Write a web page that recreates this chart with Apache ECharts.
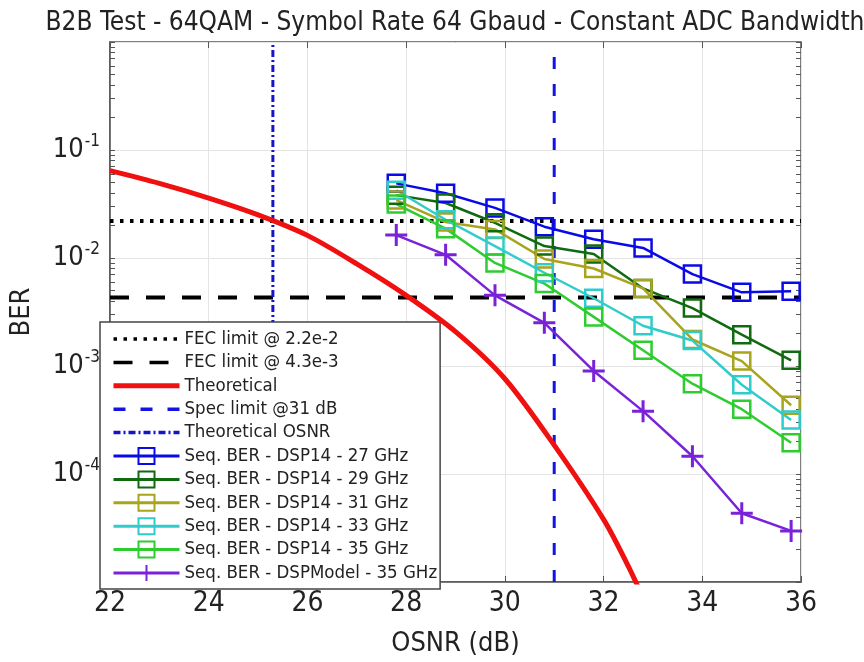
<!DOCTYPE html>
<html><head><meta charset="utf-8">
<script src="https://cdn.jsdelivr.net/npm/echarts@6/dist/echarts.min.js"></script>
<style>html,body{margin:0;padding:0;background:#fff}#c{width:864px;height:662px}</style>
</head><body><div id="c"></div>
<script>
// ---- data ----
const osnr = [27.8, 28.8, 29.8, 30.8, 31.8, 32.8, 33.8, 34.8, 35.8];
const ber27 = [0.0491, 0.0398, 0.0291, 0.0195, 0.0149, 0.0124, 0.0071, 0.00481, 0.00491];
const ber29 = [0.0382, 0.0323, 0.0212, 0.0129, 0.0109, 0.00523, 0.00344, 0.00195, 0.00113];
const ber31 = [0.0344, 0.0215, 0.0184, 0.0098, 0.0080, 0.00523, 0.00176, 0.00111, 0.000433];
const ber33 = [0.0424, 0.0226, 0.0129, 0.0073, 0.00424, 0.00236, 0.00172, 0.00067, 0.000316];
const ber35 = [0.0316, 0.0187, 0.0090, 0.0058, 0.00285, 0.00140, 0.000686, 0.000398, 0.000195];
const berModel = [0.0163, 0.0107, 0.00451, 0.00251, 0.00090, 0.000382, 0.000146, 0.0000433, 0.0000297];
const theoOsnr = [22, 23, 24, 25, 26, 27, 28, 29, 30, 31, 32, 32.5, 33];
const theoBer = [0.0644, 0.0491, 0.0359, 0.0251, 0.0162, 0.00882, 0.00451, 0.00208, 0.000762, 0.000185, 0.000038, 0.0000140, 0.0000045];
const fecLimit1 = 0.022;
const fecLimit2 = 0.0043;
const specLimitOsnr = 31;
const theoLimitOsnr = 25.3;
const xTicks = [22, 24, 26, 28, 30, 32, 34, 36];
const yDecades = [1e-5, 1e-4, 1e-3, 1e-2, 1e-1, 1];
const yLabelDecades = [1e-4, 1e-3, 1e-2, 1e-1];
const minorMant = [2, 3, 4, 5, 6, 7, 8, 9];

const names = ['FEC limit @ 2.2e-2', 'FEC limit @ 4.3e-3', 'Theoretical', 'Spec limit @31 dB', 'Theoretical OSNR',
  'Seq. BER - DSP14 - 27 GHz', 'Seq. BER - DSP14 - 29 GHz', 'Seq. BER - DSP14 - 31 GHz',
  'Seq. BER - DSP14 - 33 GHz', 'Seq. BER - DSP14 - 35 GHz', 'Seq. BER - DSPModel - 35 GHz'];

// ---- build ----
const FONT = "'Liberation Sans Narrow', 'DejaVu Sans Condensed', 'Liberation Sans', Arial, sans-serif";
const xMin = xTicks[0], xMax = xTicks[xTicks.length - 1];
const yMin = yDecades[0], yMax = yDecades[yDecades.length - 1];
const allTicks = [];
for (let i = 0; i < yDecades.length; i++) {
  allTicks.push(yDecades[i]);
  if (i < yDecades.length - 1) minorMant.forEach(m => allTicks.push(+(m * yDecades[i]).toPrecision(3)));
}
const zip = (xs, ys) => xs.map((x, i) => [x, ys[i]]);
const PLUS = 'path://M0,10 L20,10 M10,0 L10,20';

function seq(name, ys, color, isPlus) {
  return {
    name, type: 'line', data: zip(osnr, ys),
    symbol: isPlus ? PLUS : 'rect', symbolSize: isPlus ? 22 : 17,
    lineStyle: { color, width: 2.5 },
    itemStyle: { color: isPlus ? color : 'transparent', borderColor: color, borderWidth: isPlus ? 3 : 2.5 },
    color, z: 5
  };
}

const series = [
  { name: names[0], type: 'line', symbol: 'none', data: [[xMin, fecLimit1], [xMax, fecLimit1]],
    lineStyle: { color: '#000', width: 4, type: [3.5, 6.5] }, color: '#000', z: 3 },
  { name: names[1], type: 'line', symbol: 'none', data: [[xMin, fecLimit2], [xMax, fecLimit2]],
    lineStyle: { color: '#000', width: 4, type: [19, 17] }, color: '#000', z: 3 },
  { name: names[2], type: 'line', symbol: 'none', smooth: 0.3, data: zip(theoOsnr, theoBer),
    lineStyle: { color: '#f01010', width: 5 }, color: '#f01010', z: 4 },
  { name: names[3], type: 'line', symbol: 'none', data: [[specLimitOsnr, yMin], [specLimitOsnr, yMax]],
    lineStyle: { color: '#1414e0', width: 3, type: [12, 15] }, color: '#1414e0', z: 3 },
  { name: names[4], type: 'line', symbol: 'none', data: [[theoLimitOsnr, yMin], [theoLimitOsnr, yMax]],
    lineStyle: { color: '#1414c8', width: 3, type: [7, 3, 2, 3] }, color: '#1414c8', z: 3 },
  seq(names[5], ber27, '#0a0ae6'),
  seq(names[6], ber29, '#106a10'),
  seq(names[7], ber31, '#a8a41c'),
  seq(names[8], ber33, '#30cccc'),
  seq(names[9], ber35, '#2ecc2e'),
  seq(names[10], berModel, '#7a22d8', true)
];

const legendData = names.map((n, i) => i < 5
  ? { name: n, itemStyle: { opacity: 0 }, lineStyle: { width: i === 2 ? 5 : 3.5 } }
  : { name: n, lineStyle: { width: 3 } });

const chart = echarts.init(document.getElementById('c'), null, { renderer: 'canvas' });
chart.setOption({
  animation: false,
  backgroundColor: '#fff',
  title: { text: 'B2B Test - 64QAM - Symbol Rate 64 Gbaud - Constant ADC Bandwidth', left: 450, textAlign: 'center', top: 5,
    textStyle: { fontFamily: FONT, fontSize: 26, fontWeight: 'normal', color: '#222' } },
  grid: { left: 101, right: 63, top: 42, bottom: 72, show: true, borderColor: '#555', borderWidth: 1.5, backgroundColor: 'transparent' },
  legend: {
    orient: 'vertical', left: 100, top: 322, itemWidth: 66, itemHeight: 20, itemGap: 3.4,
    padding: [7, 3, 6, 11], backgroundColor: '#fff', borderColor: '#444', borderWidth: 1.5,
    textStyle: { fontFamily: FONT, fontSize: 18.5, lineHeight: 20, color: '#222' }, data: legendData
  },
  xAxis: [
    { type: 'value', min: xMin, max: xMax, interval: 2, name: 'OSNR (dB)', nameLocation: 'middle', nameGap: 48,
      nameTextStyle: { fontFamily: FONT, fontSize: 27, color: '#222' },
      axisLine: { show: true, lineStyle: { color: '#555', width: 1.5 } },
      axisTick: { show: true, inside: true, length: 6, lineStyle: { color: '#555' } },
      axisLabel: { fontFamily: FONT, fontSize: 28, color: '#222', margin: 8 },
      splitLine: { show: true, lineStyle: { color: '#e4e4e4', width: 1 } } },
    { type: 'value', position: 'top', min: xMin, max: xMax, interval: 2,
      axisLine: { show: false }, axisLabel: { show: false }, splitLine: { show: false },
      axisTick: { show: true, inside: true, length: 6, lineStyle: { color: '#555' } } }
  ],
  yAxis: [
    { type: 'log', min: yMin, max: yMax, logBase: 10, name: 'BER', nameLocation: 'middle', nameGap: 75,
      nameTextStyle: { fontFamily: FONT, fontSize: 27, color: '#222' },
      axisLine: { show: true, lineStyle: { color: '#555', width: 1.5 } },
      axisTick: { show: false },
      axisLabel: { customValues: yLabelDecades, margin: 10, fontFamily: FONT, color: '#222',
        formatter: v => '{b|10}{s|' + Math.round(Math.log10(v)) + '}',
        rich: { b: { fontFamily: FONT, fontSize: 27, color: '#222' },
                s: { fontFamily: FONT, fontSize: 17, color: '#222', padding: [0, 0, 16, 1] } } },
      splitLine: { show: true, lineStyle: { color: '#e4e4e4', width: 1 } } },
    { type: 'log', position: 'left', min: yMin, max: yMax, logBase: 10,
      axisLine: { show: false }, axisLabel: { show: false }, splitLine: { show: false },
      axisTick: { show: true, inside: true, length: 5, customValues: allTicks, lineStyle: { color: '#555' } } },
    { type: 'log', position: 'right', min: yMin, max: yMax, logBase: 10,
      axisLine: { show: false }, axisLabel: { show: false }, splitLine: { show: false },
      axisTick: { show: true, inside: true, length: 5, customValues: allTicks, lineStyle: { color: '#555' } } }
  ],
  series
});
</script></body></html>
